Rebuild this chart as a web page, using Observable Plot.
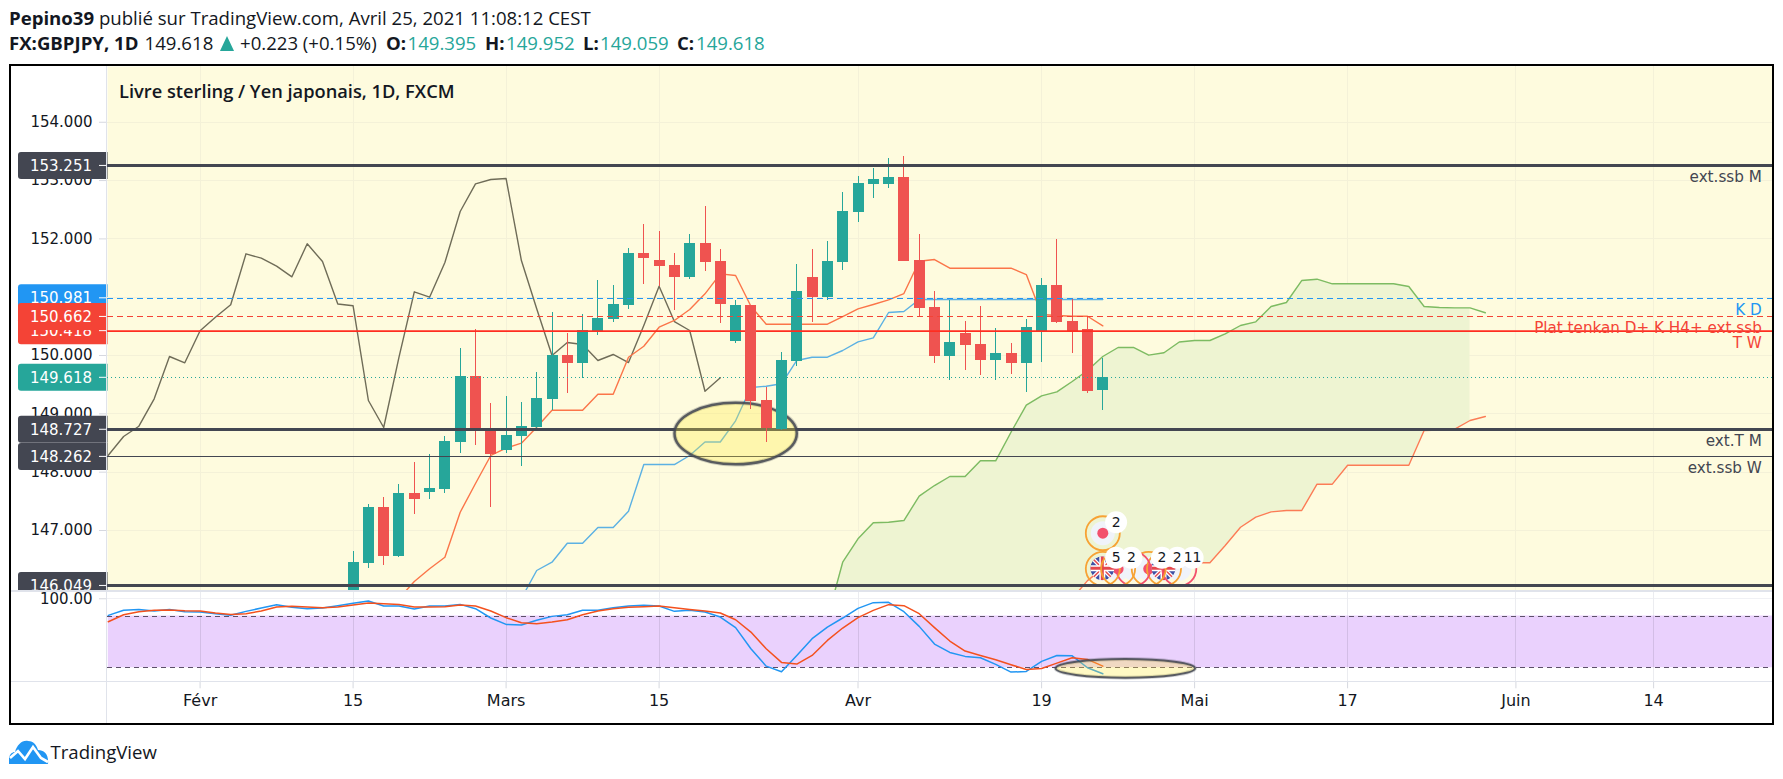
<!DOCTYPE html>
<html lang="fr">
<head>
<meta charset="utf-8">
<title>FX:GBPJPY, 1D</title>
<script src="https://cdn.jsdelivr.net/npm/d3@7"></script>
<script src="https://cdn.jsdelivr.net/npm/@observablehq/plot@0.6"></script>
<style>
html,body{margin:0;padding:0;background:#fff;overflow:hidden}
#page{position:relative;width:1783px;height:779px;overflow:hidden;background:#fff}
#page>div.pane{position:absolute;left:0}
.line{position:absolute;background:#e0e3eb}
.hdr{position:absolute;font-family:"Open Sans",sans-serif;font-size:18.6px;color:#131722;white-space:pre}
.hdr b{font-weight:700}
.teal{color:#26a69a}
.tri{position:absolute;left:220px;top:36px;width:0;height:0;border-left:7px solid transparent;border-right:7px solid transparent;border-bottom:15px solid #26a69a}
</style>
</head>
<body>
<div id="page">
  <div id="chart1" class="pane" style="top:0"></div>
  <div id="chart2" class="pane" style="top:590px"></div>
  <div class="line" style="left:11px;top:590px;width:1761px;height:1.5px"></div>
  <div class="line" style="left:11px;top:680.7px;width:1761px;height:1.5px"></div>
  <div class="line" style="left:106.3px;top:66px;width:1px;height:657px"></div>
  <div style="position:absolute;left:9px;top:64px;width:1765px;height:660.5px;box-sizing:border-box;border:2px solid #000;pointer-events:none"></div>
  <div class="hdr" style="left:9px;top:5px"><b>Pepino39</b> publié sur TradingView.com, Avril 25, 2021 11:08:12 CEST</div>
  <div class="hdr" style="left:9px;top:30px"><b>FX:GBPJPY, 1D</b></div>
  <div class="hdr" style="left:144.6px;top:30px">149.618</div>
  <div class="tri"></div>
  <div class="hdr" style="left:240px;top:30px">+0.223 (+0.15%)</div>
  <div class="hdr" style="left:386px;top:30px"><b>O:</b></div>
  <div class="hdr teal" style="left:407.5px;top:30px">149.395</div>
  <div class="hdr" style="left:485px;top:30px"><b>H:</b></div>
  <div class="hdr teal" style="left:506px;top:30px">149.952</div>
  <div class="hdr" style="left:583px;top:30px"><b>L:</b></div>
  <div class="hdr teal" style="left:600px;top:30px">149.059</div>
  <div class="hdr" style="left:677px;top:30px"><b>C:</b></div>
  <div class="hdr teal" style="left:696px;top:30px">149.618</div>
  <div style="position:absolute;left:119px;top:78px;font:600 18.25px 'Open Sans',sans-serif;color:#131722">Livre sterling / Yen japonais, 1D, FXCM</div>
  <svg style="position:absolute;left:9px;top:740px" width="40" height="24" viewBox="0 0 40 24">
    <path d="M0 24 C-1 16 2 12 6 12 C8 5 13 0 19 1 C25 1 28 6 29 10 C35 10 40 14 39 24 Z" fill="#2196f3"/>
    <path d="M1 18 L9 11 L16 19 L24 7 L32 18 L39 22" fill="none" stroke="#fff" stroke-width="2.6"/>
  </svg>
  <div style="position:absolute;left:50.5px;top:739px;font:18.6px 'Open Sans',sans-serif;color:#131722">TradingView</div>
</div>
<script>
// ---------- time axis (trading-day index; 0 = 1 Feb 2021) ----------
const timeTicks  = [0, 10, 20, 30, 43, 55, 65, 75, 86, 95];
const timeLabels = ["Févr", "15", "Mars", "15", "Avr", "19", "Mai", "17", "Juin", "14"];
const xDomain = [-6.052, 102.79];

// ---------- candles, index 10..59 ----------
const candleStart = 10;
const opens  = [145.8,146.44,147.394,146.554,147.634,147.651,147.703,148.509,149.64,148.714,148.371,148.611,148.766,149.246,150.0,149.863,150.412,150.618,150.858,151.749,151.629,151.544,151.338,151.921,151.612,150.24,150.858,149.229,148.73,149.897,151.338,150.995,151.595,152.452,152.932,152.932,153.053,151.629,150.823,149.983,150.378,150.189,149.915,150.035,149.863,150.412,151.201,150.583,150.446,149.395];
const highs  = [146.64,147.44,147.566,147.788,148.166,148.303,148.611,150.12,150.441,149.177,149.297,149.194,149.709,150.738,150.378,150.703,151.286,151.201,151.835,152.247,152.127,151.749,152.075,152.555,151.818,150.943,150.858,149.452,150.052,151.561,151.818,151.955,152.795,153.07,153.207,153.378,153.413,152.075,151.098,150.943,150.583,150.841,150.463,150.206,150.618,151.321,151.989,150.978,150.669,149.952];
const lows   = [145.7,146.353,146.40,146.54,147.274,147.531,147.639,148.325,148.462,147.399,148.325,148.102,148.732,149.057,149.349,149.606,150.343,150.566,150.789,151.218,151.189,150.772,151.304,151.441,150.549,150.206,149.074,148.509,148.715,149.812,150.566,150.943,151.458,152.281,152.692,152.864,151.612,150.652,149.863,149.572,149.743,149.657,149.572,149.675,149.366,149.88,150.549,150.035,149.349,149.059];
const closes = [146.446,147.394,146.554,147.634,147.531,147.72,148.526,149.64,148.697,148.308,148.629,148.783,149.263,150.0,149.863,150.429,150.635,150.875,151.749,151.664,151.526,151.338,151.921,151.595,150.875,150.858,149.212,148.749,149.915,151.098,150.995,151.612,152.47,152.95,153.018,153.053,151.612,150.806,149.983,150.223,150.172,149.915,150.035,149.863,150.48,151.201,150.566,150.412,149.383,149.618];

// ---------- Ichimoku ----------
const chikouStart = -6;
const chikou = [148.291,148.611,148.788,149.258,149.983,149.875,150.424,150.657,150.87,151.744,151.669,151.532,151.35,151.916,151.612,150.883,150.853,149.229,148.766,149.971,151.093,151.0,151.595,152.47,152.944,153.018,153.035,151.629,150.801,150.0,150.223,150.189,149.915,150.018,149.88,150.515,151.189,150.583,150.429,149.388,149.618];
const tenkanStart = 13;
const tenkan = [145.834,146.125,146.343,146.542,147.313,147.806,148.286,148.411,148.497,148.771,149.062,149.062,149.062,149.337,149.337,149.971,150.16,150.486,150.601,150.789,151.058,151.401,151.372,150.846,150.537,150.537,150.537,150.537,150.537,150.669,150.801,150.875,150.955,151.063,151.617,151.646,151.497,151.497,151.497,151.497,151.497,151.389,150.703,150.686,150.674,150.674,150.51];
const kijunStart = 21;
const kijun = [145.834,146.314,146.456,146.782,146.782,147.051,147.051,147.331,148.131,148.131,148.131,148.286,148.517,148.517,148.881,149.452,149.474,149.515,149.915,149.971,149.971,150.086,150.235,150.304,150.738,150.755,150.961,150.961,150.961,150.961,150.961,150.961,150.961,150.961,150.961,150.961,150.961,150.961,150.961];
const senkouStart = 41;
const senkouA = [145.49,146.456,146.857,147.132,147.142,147.171,147.588,147.771,147.926,147.926,148.195,148.195,148.685,149.148,149.309,149.378,149.555,149.743,149.983,150.138,150.138,150.006,150.047,150.232,150.258,150.258,150.372,150.515,150.578,150.841,150.909,151.286,151.309,151.23,151.23,151.23,151.23,151.23,151.184,150.841,150.823,150.818,150.818,150.733];
const senkouB = [145.5,145.5,145.5,145.5,145.5,145.5,145.5,145.5,145.5,145.5,145.5,145.5,145.5,145.5,145.5,145.5,145.834,146.14,146.35,146.446,146.446,146.446,146.446,146.446,146.446,146.446,146.743,147.056,147.228,147.32,147.343,147.343,147.794,147.794,148.119,148.119,148.119,148.119,148.119,148.714,148.722,148.739,148.886,148.954];

// ---------- Stochastic RSI, index -6..59 ----------
const stochStart = -6;
const stochK = [80.8,86.6,87.7,85.8,87.7,85.0,84.6,82.7,80.8,85.4,89.3,93.2,90.1,88.5,89.3,92.0,94.7,97.4,91.6,91.6,88.1,91.6,91.6,93.5,88.5,77.7,70.3,69.5,75.0,79.6,81.5,86.6,86.6,89.7,91.6,92.4,91.6,85.4,86.6,84.6,78.8,66.5,42.1,21.9,15.4,34.3,53.7,67.2,77.7,88.9,95.5,95.9,85.0,68.0,47.5,37.8,33.2,31.6,23.9,15.0,15.7,27.4,34.3,33.9,20,13];
const stochD = [73.4,81.5,85.0,86.6,87.0,86.2,85.8,83.5,81.9,82.7,85.8,90.5,91.2,90.5,89.7,90.5,92.8,95.1,94.3,93.5,90.5,90.5,90.8,92.8,91.6,85.8,78.1,72.3,71.1,73.0,75.7,81.5,85.8,88.5,90.1,90.8,91.6,89.7,87.7,85.8,83.5,75.7,61.4,42.1,26.2,24.3,34.3,51.7,66.1,78.1,86.6,93.2,92.0,82.7,66.5,51,39.4,34.3,29.3,23.5,18.1,19.2,25.4,31.6,29.7,21.9];

// ---------- horizontal levels ----------
const levelPrices = [153.251,150.981,150.662,150.418,149.618,148.727,148.262,146.049];
const levelColors = ["#434651","#2196f3","#f44336","#ff2d20","#26a69a","#434651","#434651","#434651"];
const levelWidths = [3,1,1,1.6,1,3,1,3];
const levelDashes = ["none","6,4","6,4","none","1,3","none","none","none"];
const levelCrisp  = [true,true,true,false,true,true,true,true];
const tagOrder = [0,1,3,2,4,5,6,7];
const tagColors = ["#434651","#2196f3","#f44336","#f44336","#26a69a","#434651","#434651","#434651"];
const priceTicks = [154,153,152,150,149,148,147];

// ---------- level notes at the right ----------
const noteTexts  = ["ext.ssb M","K D","Plat tenkan D+ K H4+ ext.ssb","T W","ext.T M","ext.ssb W"];
const notePrices = [153.251,150.981,150.418,150.418,148.727,148.262];
const noteColors = ["#434651","#2196f3","#f44336","#f44336","#434651","#434651"];
const noteAbove  = [false,false,true,false,false,false];

// ---------- calendar events ----------
const eventIdx   = [59,59,60,61,62,63,64];
const eventPrice = [146.953,146.343,146.343,146.343,146.343,146.343,146.343];
const eventRing  = ["#f7a234","#f7a234","#f7a234","#f3506c","#f7a234","#f7a234","#f3506c"];
const eventKind  = ["dot","flag","dot","none","dot","flag","none"];
const eventBadge = ["2","5","2","","2","2","11"];

const zip = (start, vals) => vals.map((v, k) => ({i: start + k, v}));
const candles = opens.map((o, k) => ({i: candleStart + k, o, h: highs[k], l: lows[k], c: closes[k]}));
const cloud = senkouA.map((a, k) => ({i: senkouStart + k, a, b: senkouB[k]})).filter(d => d.i <= 83);
const levels = levelPrices.map((p, k) => ({p, color: levelColors[k], tag: tagColors[k], w: levelWidths[k], dash: levelDashes[k], crisp: levelCrisp[k]}));
const notes = noteTexts.map((t, k) => ({t, p: notePrices[k], color: noteColors[k], above: noteAbove[k]}));
const events = eventIdx.map((i, k) => ({i, p: eventPrice[k], ring: eventRing[k], kind: eventKind[k], badge: eventBadge[k]}));

const UP = "#26a69a", DOWN = "#ef5350";
const FONT = "DejaVu Sans";
const GRID = "#f4f1d8";
const CRISP = "crispEdges";
const candleColor = d => d.c >= d.o ? UP : DOWN;

function priceTags(index, scales) {
  const g = d3.create("svg:g");
  for (const k of tagOrder) {
    const l = levels[k], sy = scales.y(l.p);
    g.append("rect").attr("x", 18).attr("y", sy - 13.5).attr("width", 95).attr("height", 27).attr("rx", 3).attr("fill", l.tag);
    g.append("line").attr("x1", 99).attr("x2", 107).attr("y1", sy).attr("y2", sy).attr("stroke", "#fff");
    g.append("text").attr("x", 92).attr("y", sy + 5.5).attr("text-anchor", "end").attr("fill", "#fff")
      .attr("font-family", FONT).attr("font-size", 15).text(l.p.toFixed(3));
  }
  return g.node();
}

function eventFlags(index, scales) {
  const g = d3.create("svg:g");
  const defs = g.append("defs");
  events.filter(e => e.kind === "flag").forEach((e, n) => {
    const cx = scales.x(e.i), cy = scales.y(e.p), id = "flagclip" + n;
    defs.append("clipPath").attr("id", id).append("circle").attr("cx", cx).attr("cy", cy).attr("r", 12);
    const f = g.append("g").attr("clip-path", `url(#${id})`);
    f.append("circle").attr("cx", cx).attr("cy", cy).attr("r", 12).attr("fill", "#3f51a5");
    const bar = (x1, y1, x2, y2, c, w) => f.append("line").attr("x1", cx + x1).attr("y1", cy + y1).attr("x2", cx + x2).attr("y2", cy + y2).attr("stroke", c).attr("stroke-width", w);
    bar(-12, -12, 12, 12, "#fff", 4); bar(-12, 12, 12, -12, "#fff", 4);
    bar(-12, -12, 12, 12, "#e5484d", 1.5); bar(-12, 12, 12, -12, "#e5484d", 1.5);
    bar(-12, 0, 12, 0, "#fff", 6); bar(0, -12, 0, 12, "#fff", 6);
    bar(-12, 0, 12, 0, "#e5484d", 3); bar(0, -12, 0, 12, "#e5484d", 3);
  });
  return g.node();
}

const ellipseMark = (i1, i2, p1, p2, strokeW) => (index, scales) => {
  const x1 = scales.x(i1), x2 = scales.x(i2), y1 = scales.y(p1), y2 = scales.y(p2);
  const g = d3.create("svg:g");
  const mk = () => g.append("ellipse").attr("cx", (x1 + x2) / 2).attr("cy", (y1 + y2) / 2).attr("rx", (x2 - x1) / 2).attr("ry", Math.abs(y2 - y1) / 2);
  mk().attr("fill", "none").attr("stroke", "#434651").attr("stroke-opacity", .25).attr("stroke-width", strokeW + 2);
  mk().attr("fill", "#ffeb3b").attr("fill-opacity", .3).attr("stroke", "#434651").attr("stroke-opacity", .85).attr("stroke-width", strokeW);
  return g.node();
};

const candleInFront = candles.filter(d => d.i >= 36 && d.i <= 38);

const price = Plot.plot({
  width: 1783, height: 590,
  marginLeft: 107, marginRight: 10.7, marginTop: 66, marginBottom: 0,
  x: {domain: xDomain, axis: null},
  y: {domain: [145.971, 154.956], label: null},
  style: {fontFamily: FONT, background: "transparent", overflow: "hidden", maxWidth: "none"},
  marks: [
    Plot.axisY({ticks: priceTicks, tickFormat: d3.format(".3f"), tickSize: 8, tickPadding: 7, fontSize: 15, stroke: "#d6d8df", fill: "#131722", label: null}),
    priceTags,
    Plot.frame({fill: "#fefbde", stroke: null}),
    Plot.ruleY([154,153,152,151,150,149,148,147], {stroke: GRID, shapeRendering: CRISP}),
    Plot.ruleX(timeTicks, {stroke: GRID, shapeRendering: CRISP}),
    Plot.areaY(cloud, {x: "i", y1: "a", y2: "b", fill: "#eef4d2", clip: true, curve: "linear"}),
    Plot.line(zip(senkouStart, senkouA), {x: "i", y: "v", stroke: "#7dbb62", strokeWidth: 1.4, clip: true}),
    Plot.line(zip(senkouStart + 16, senkouB.slice(16)), {x: "i", y: "v", stroke: "#fb7c56", strokeWidth: 1.4, clip: true}),
    Plot.line(zip(chikouStart, chikou), {x: "i", y: "v", stroke: "#6f6c58", strokeWidth: 1.4, clip: true}),
    Plot.line(zip(kijunStart, kijun), {x: "i", y: "v", stroke: "#5cb1e3", strokeWidth: 1.4, clip: true}),
    Plot.line(zip(tenkanStart, tenkan), {x: "i", y: "v", stroke: "#fb7549", strokeWidth: 1.4, clip: true}),
    Plot.ruleX(candles, {x: "i", y1: "l", y2: "h", stroke: candleColor, strokeWidth: 1, clip: true, shapeRendering: CRISP}),
    Plot.ruleX(candles, {x: "i", y1: "o", y2: "c", stroke: candleColor, strokeWidth: 11, clip: true, shapeRendering: CRISP}),
    Plot.dot(events, {x: "i", y: "p", r: 12, fill: "#f0f3fa", stroke: null}),
    Plot.dot(events.filter(e => e.kind === "dot"), {x: "i", y: "p", r: 5.5, fill: "#f3506c", stroke: null}),
    eventFlags,
    Plot.dot(events.slice().reverse(), {x: "i", y: "p", r: 17, fill: "none", stroke: "ring", strokeWidth: 1.8}),
    Plot.dot(events.filter(e => e.badge !== ""), {x: "i", y: "p", r: 11, dx: 13.3, dy: -11, fill: "#fff", stroke: null}),
    Plot.text(events, {x: "i", y: "p", text: "badge", dx: 13.3, dy: -11, fontSize: 14, fill: "#131722"}),
    ...levels.map(l => Plot.ruleY([l.p], {stroke: l.color, strokeWidth: l.w, strokeDasharray: l.dash === "none" ? undefined : l.dash, shapeRendering: l.crisp ? CRISP : "auto"})),
    Plot.text(notes.filter(n => !n.above), {x: () => xDomain[1], y: "p", text: "t", fill: "color", dy: 11.5, dx: -11, textAnchor: "end", fontSize: 15.2}),
    Plot.text(notes.filter(n => n.above), {x: () => xDomain[1], y: "p", text: "t", fill: "color", dy: -2.6, dx: -11, textAnchor: "end", fontSize: 15.2}),
    ellipseMark(31.04, 39.03, 149.18, 148.126, 2.5),
    Plot.ruleX(candleInFront, {x: "i", y1: "l", y2: "h", stroke: candleColor, strokeWidth: 1, clip: true, shapeRendering: CRISP}),
    Plot.ruleX(candleInFront, {x: "i", y1: "o", y2: "c", stroke: candleColor, strokeWidth: 11, clip: true, shapeRendering: CRISP})
  ]
});

const stoch = Plot.plot({
  width: 1783, height: 134,
  marginLeft: 107, marginRight: 10.7, marginTop: 0, marginBottom: 42.7,
  x: {domain: xDomain, label: null},
  y: {domain: [3.74, 109.6], label: null},
  style: {fontFamily: FONT, background: "transparent", overflow: "hidden", maxWidth: "none"},
  marks: [
    Plot.axisY({ticks: [100], tickFormat: d3.format(".2f"), tickSize: 8, tickPadding: 7, fontSize: 15, stroke: "#d6d8df", fill: "#131722", label: null}),
    Plot.axisX({ticks: timeTicks, tickFormat: i => timeLabels[timeTicks.indexOf(i)], tickSize: 7, tickPadding: 6, fontSize: 16, stroke: "#d6d8df", fill: "#131722", label: null}),
    Plot.ruleY([100], {stroke: "#f0f1f5", shapeRendering: CRISP}),
    Plot.ruleX(timeTicks, {stroke: "#ebecf0", shapeRendering: CRISP}),
    Plot.rect([{x1: xDomain[0] + .05, x2: xDomain[1], y1: 20, y2: 80}], {x1: "x1", x2: "x2", y1: "y1", y2: "y2", fill: "#9c27f5", fillOpacity: .21}),
    Plot.ruleX(timeTicks, {stroke: "#ccb8dc", strokeOpacity: .5, y1: 20, y2: 80, shapeRendering: CRISP}),
    Plot.ruleY([20, 80], {stroke: "#5d5069", strokeDasharray: "5,4", strokeWidth: 1, shapeRendering: CRISP}),
    Plot.line(zip(stochStart, stochK), {x: "i", y: "v", stroke: "#2196f3", strokeWidth: 1.5}),
    Plot.line(zip(stochStart, stochD), {x: "i", y: "v", stroke: "#f4511e", strokeWidth: 1.5}),
    ellipseMark(55.95, 65.06, 29.7, 8, 2)
  ]
});

document.getElementById("chart1").appendChild(price);
document.getElementById("chart2").appendChild(stoch);
</script>
</body>
</html>
